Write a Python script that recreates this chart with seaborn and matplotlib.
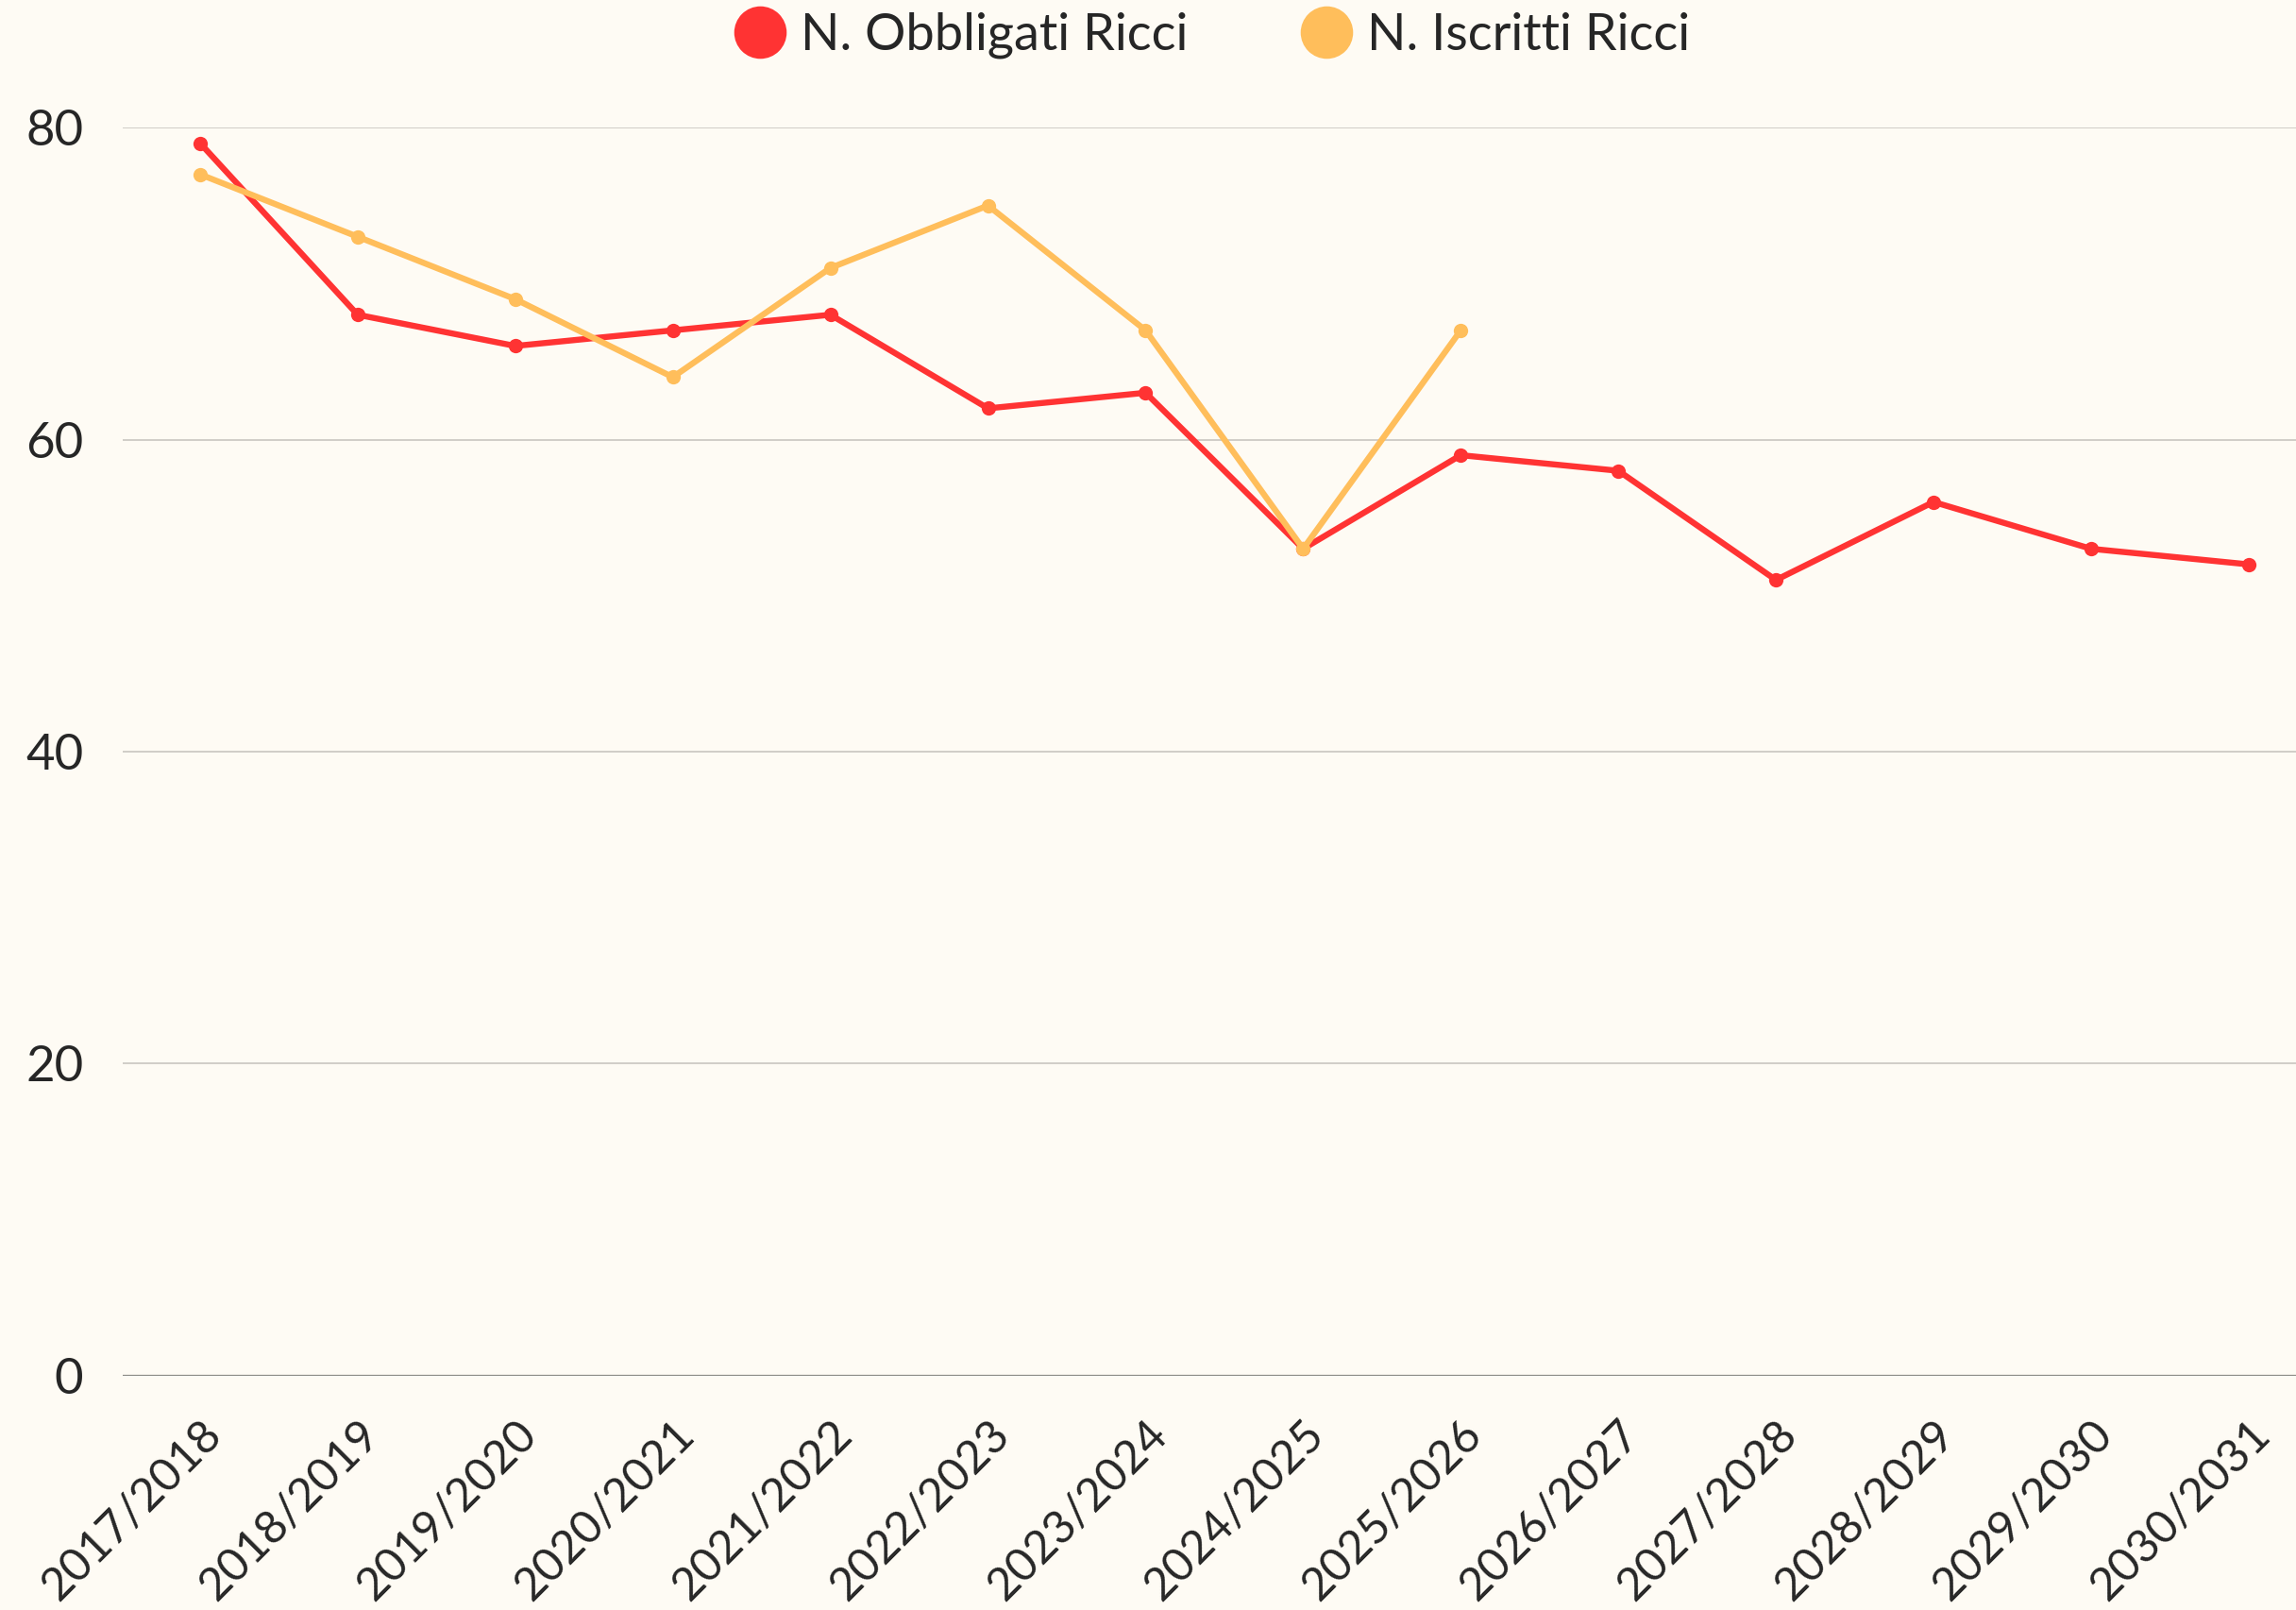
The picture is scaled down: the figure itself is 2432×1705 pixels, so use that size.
import matplotlib
matplotlib.use("Agg")
import matplotlib.pyplot as plt
import matplotlib.transforms as mtransforms
from matplotlib.lines import Line2D
import seaborn as sns
import pandas as pd

# ---- data ----
anni = ["2017/2018", "2018/2019", "2019/2020", "2020/2021", "2021/2022",
        "2022/2023", "2023/2024", "2024/2025", "2025/2026", "2026/2027",
        "2027/2028", "2028/2029", "2029/2030", "2030/2031"]
obbligati = [79, 68, 66, 67, 68, 62, 63, 53, 59, 58, 51, 56, 53, 52]
iscritti = [77, 73, 69, 64, 71, 75, 67, 53, 67]
serie = ["N. Obbligati Ricci", "N. Iscritti Ricci"]
colori = ["#FF3333", "#FFBE5B"]
y_ticks = [0, 20, 40, 60, 80]

BG = "#FEFBF4"

sns.set_theme(style="white")
plt.rcParams["font.family"] = ["Lato", "DejaVu Sans"]

df = pd.concat([
    pd.DataFrame({"anno": anni, "x": range(len(anni)), "valore": obbligati, "serie": serie[0]}),
    pd.DataFrame({"anno": anni[:len(iscritti)], "x": range(len(iscritti)),
                  "valore": iscritti, "serie": serie[1]}),
])

fig = plt.figure(figsize=(12.16, 8.525), dpi=200, facecolor=BG)
ax = fig.add_axes([0.0535, 0.1455, 0.9465, 0.7753])
ax.set_facecolor(BG)

sns.lineplot(data=df, x="x", y="valore", hue="serie", hue_order=serie,
             palette=colori, marker="o", markersize=5.5, markeredgewidth=0,
             linewidth=2.3, ax=ax, legend=False)

# griglia
for v in y_ticks[1:]:
    ax.axhline(v, color="#C9C6C0", linewidth=0.6, zorder=0)
ax.axhline(0, color="#8A8A86", linewidth=0.8, zorder=0)

ax.set_xlim(-0.49, 13.3)
ax.set_ylim(0, 80)
ax.set_yticks(y_ticks)
ax.set_yticklabels([str(v) for v in y_ticks], fontsize=19)
ax.set_xticks(range(len(anni)))
ax.set_xticklabels(anni, fontsize=17.5, rotation=45, ha="right", va="top",
                   rotation_mode="anchor")
offset = mtransforms.ScaledTranslation(0.12, 0, fig.dpi_scale_trans)
for lab in ax.get_xticklabels():
    lab.set_transform(lab.get_transform() + offset)
ax.tick_params(axis="x", length=0, pad=14)
ax.tick_params(axis="y", length=0, pad=15)
ax.set_xlabel("")
ax.set_ylabel("")
for s in ax.spines.values():
    s.set_visible(False)

handles = [Line2D([0], [0], marker="o", color="none", markerfacecolor=c,
                  markeredgewidth=0, markersize=20) for c in colori]
fig.legend(handles, serie, loc="center", bbox_to_anchor=(0.528, 0.978),
           ncol=2, frameon=False, fontsize=19.5, handletextpad=0.3,
           columnspacing=2.2, handlelength=1.0)

fig.savefig("out.png", dpi=200, facecolor=BG)
